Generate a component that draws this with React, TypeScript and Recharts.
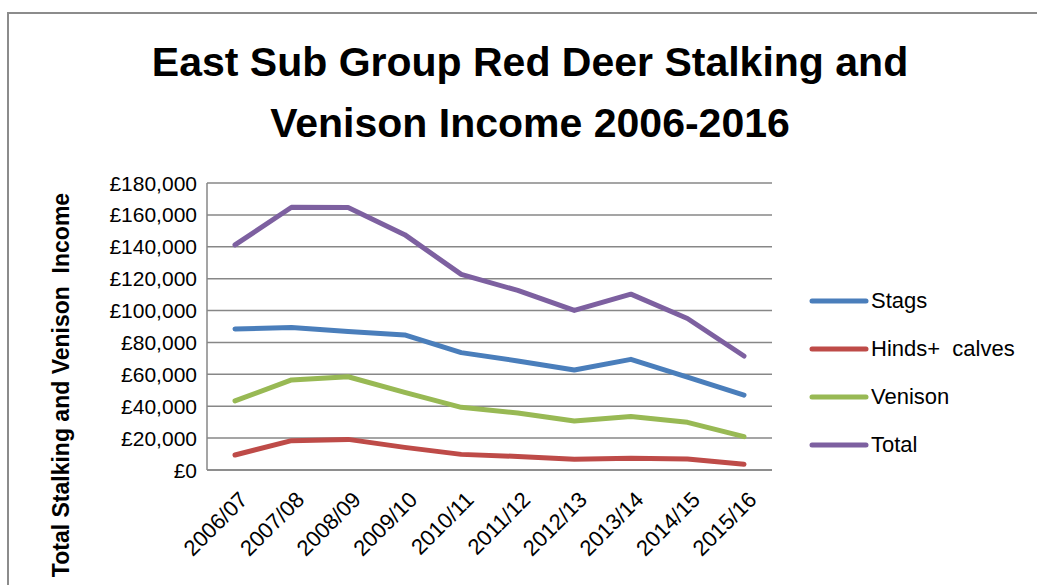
import React from 'react';
import { LineChart, Line, XAxis, YAxis, CartesianGrid, Legend } from 'recharts';

const categories = ['2006/07', '2007/08', '2008/09', '2009/10', '2010/11', '2011/12', '2012/13', '2013/14', '2014/15', '2015/16'];
const stags = [88500, 89300, 86800, 84700, 73600, 68400, 62700, 69400, 58200, 47000];
const hinds = [9400, 18400, 19200, 14200, 9800, 8500, 6700, 7300, 6900, 3600];
const venison = [43300, 56500, 58500, 48700, 39300, 35700, 30700, 33600, 29900, 20900];
const total = [141200, 164800, 164600, 147600, 122700, 112600, 100100, 110300, 95000, 71500];
const yTicks = [0, 20000, 40000, 60000, 80000, 100000, 120000, 140000, 160000, 180000];

const titleLines = ['East Sub Group Red Deer Stalking and', 'Venison Income 2006-2016'];
const yAxisTitle = 'Total Stalking and Venison  Income';

const seriesInfo = [
  { key: 'stags', name: 'Stags', color: '#4A7EBB' },
  { key: 'hinds', name: 'Hinds+  calves', color: '#BE4B48' },
  { key: 'venison', name: 'Venison', color: '#98B954' },
  { key: 'total', name: 'Total', color: '#7D60A0' },
];

const data = categories.map((c, i) => ({
  category: c,
  stags: stags[i],
  hinds: hinds[i],
  venison: venison[i],
  total: total[i],
}));

const FONT = '"Liberation Sans", Arial, sans-serif';
const GRID = '#878787';

const fmt = (v: number) => '£' + String(v).replace(/\B(?=(\d{3})+(?!\d))/g, ',');

const YTick = (props: any) => {
  const { x, y, payload } = props;
  return (
    <text x={x - 10} y={y} dy="0.36em" textAnchor="end" fontSize={21} fontFamily={FONT} fill="#000">
      {fmt(payload.value)}
    </text>
  );
};

const XTick = (props: any) => {
  const { x, y, payload } = props;
  return (
    <g transform={`translate(${x + 14},${y + 31})`}>
      <text x={0} y={0} textAnchor="end" transform="rotate(-45)" fontSize={22} fontFamily={FONT} fill="#000">
        {payload.value}
      </text>
    </g>
  );
};

const YLabel = () => (
  <text
    x={69}
    y={385}
    transform="rotate(-90 69 385)"
    textAnchor="middle"
    fontSize={23}
    fontWeight="bold"
    fontFamily={FONT}
    fill="#000"
    style={{ whiteSpace: 'pre' }}
  >
    {yAxisTitle}
  </text>
);

const LegendContent = () => (
  <div style={{ fontFamily: FONT, fontSize: 22, color: '#000' }}>
    {seriesInfo.map((s) => (
      <div key={s.key} style={{ display: 'flex', alignItems: 'center', height: 48, whiteSpace: 'pre' }}>
        <svg width={60} height={10} style={{ marginRight: 2 }}>
          <line x1={3} y1={5} x2={57} y2={5} stroke={s.color} strokeWidth={5} strokeLinecap="round" />
        </svg>
        <span>{s.name}</span>
      </div>
    ))}
  </div>
);

export default function App() {
  return (
    <div
      style={{
        position: 'absolute',
        left: 0,
        top: 0,
        width: 1037,
        height: 585,
        overflow: 'hidden',
        background: '#fff',
        fontFamily: FONT,
      }}
    >
      <div
        style={{
          position: 'absolute',
          left: 7,
          top: 12,
          width: 1100,
          height: 700,
          border: '2px solid #8c8c8c',
          boxSizing: 'border-box',
        }}
      />
      <LineChart
        width={1037}
        height={585}
        data={data}
        margin={{ top: 183, right: 265, bottom: 0, left: 0 }}
        style={{ position: 'absolute', left: 0, top: 0 }}
      >
        <CartesianGrid vertical={false} stroke={GRID} strokeWidth={1.5} />
        <XAxis
          dataKey="category"
          height={115}
          interval={0}
          tickLine={false}
          tickSize={0}
          tickMargin={0}
          axisLine={{ stroke: GRID, strokeWidth: 1.5 }}
          padding={{ left: 28, right: 28 }}
          tick={<XTick />}
        />
        <YAxis
          width={207}
          domain={[0, 180000]}
          ticks={yTicks}
          interval={0}
          tickLine={false}
          tickSize={0}
          tickMargin={0}
          axisLine={{ stroke: GRID, strokeWidth: 1.5 }}
          tick={<YTick />}
          label={<YLabel />}
        />
        <Legend
          layout="vertical"
          align="center"
          verticalAlign="middle"
          content={<LegendContent />}
          wrapperStyle={{ position: 'absolute', left: 809, top: 277, width: 228 }}
        />
        {seriesInfo.map((s) => (
          <Line
            key={s.key}
            type="linear"
            dataKey={s.key}
            name={s.name}
            stroke={s.color}
            strokeWidth={5}
            dot={false}
            activeDot={false}
            strokeLinejoin="round"
            strokeLinecap="round"
            isAnimationActive={false}
          />
        ))}
      </LineChart>
      <svg width={1037} height={160} style={{ position: 'absolute', left: 0, top: 0, pointerEvents: 'none' }}>
        {titleLines.map((t, i) => (
          <text
            key={i}
            x={530}
            y={76 + i * 61}
            textAnchor="middle"
            fontSize={41}
            fontWeight="bold"
            fontFamily={FONT}
            fill="#000"
          >
            {t}
          </text>
        ))}
      </svg>
    </div>
  );
}
